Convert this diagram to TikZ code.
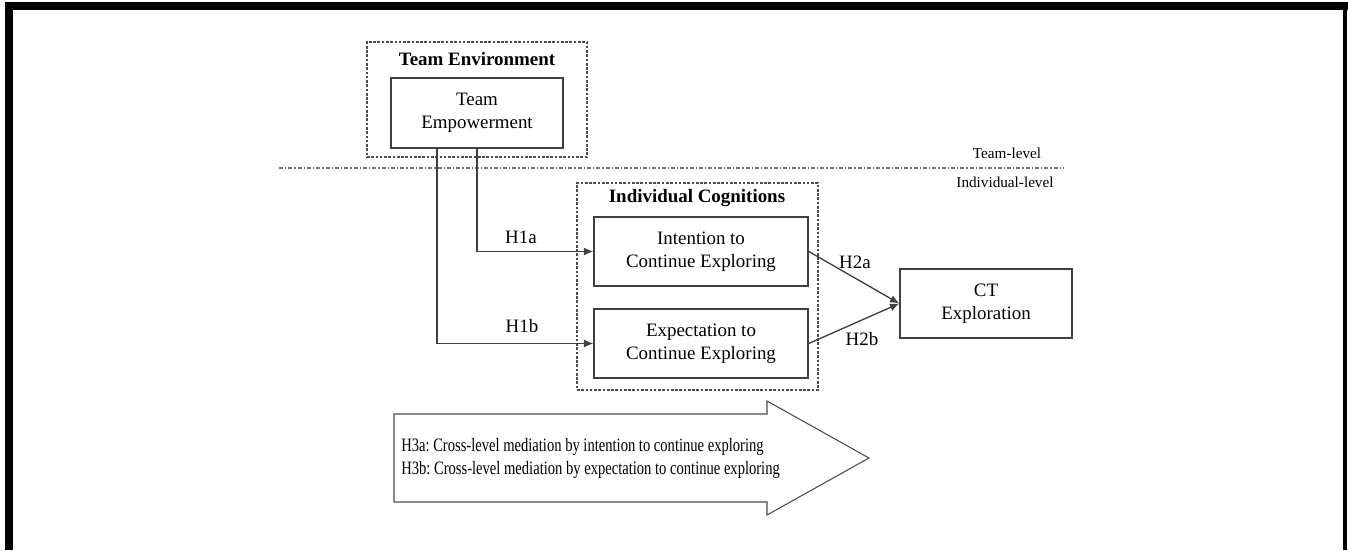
\documentclass[tikz,border=0pt]{standalone}
\usepackage{fontspec}
\setmainfont{Liberation Serif}
\usetikzlibrary{arrows,arrows.meta}

\newcommand{\mainsize}{\fontsize{14.2pt}{17.3pt}\selectfont}
\newcommand{\levelsize}{\fontsize{11.4pt}{13.5pt}\selectfont}

\tikzset{
  varbox/.style={draw=black!75, line width=1.1pt, align=center, inner sep=0pt, font=\mainsize},
  groupbox/.style={draw=black!70, line width=0.8pt, dash pattern=on 2pt off 1.2pt, inner sep=0pt},
  grouptitle/.style={font=\mainsize\bfseries},
  hyplabel/.style={font=\mainsize},
  path/.style={draw=black!75, line width=1pt, -{Latex[length=7pt,width=6pt]}},
}

\begin{document}
\begin{tikzpicture}[x=0.75pt, y=-0.75pt]
			\useasboundingbox (0,0) rectangle (1348,550);
			% frame
			\fill[black] (5,2) rectangle (1348,10);
			\fill[black] (5,2) rectangle (13,550);
			\fill[black] (1343,2) rectangle (1347,550);
			% team level
			\node[groupbox, minimum width=165pt, minimum height=86.25pt] (teamenv) at (477,99.5) {};
			\node[grouptitle] (teamenvtitle) at (477,59) {Team Environment};
			\node[varbox, minimum width=129pt, minimum height=52.5pt] (teamemp) at (477,113) {Team\\Empowerment};
			% level divider
			\coordinate (divleft) at (279,168);
			\coordinate (divright) at (1064,168);
			\draw[black!55, line width=0.8pt, dash pattern=on 3pt off 1.5pt on 1pt off 1.5pt] (divleft) -- (divright);
			\node[font=\levelsize] (teamlevel) at (1007,153) {Team-level};
			\node[font=\levelsize] (indlevel) at (1005,182) {Individual-level};
			% individual level
			\node[groupbox, minimum width=180.75pt, minimum height=155.25pt] (indcog) at (697.5,286.5) {};
			\node[grouptitle] (indcogtitle) at (697,198) {Individual Cognitions};
			\node[varbox, minimum width=160.5pt, minimum height=51.75pt] (intention) at (701,251.5) {Intention to\\Continue Exploring};
			\node[varbox, minimum width=160.5pt, minimum height=51.75pt] (expectation) at (701,343.5) {Expectation to\\Continue Exploring};
			\node[varbox, minimum width=129pt, minimum height=51.75pt] (ctexpl) at (986,303.5) {CT\\Exploration};
			% hypotheses
			\coordinate (hibstart) at (437,148);
			\draw[path] (teamemp.south) |- (intention.west);
			\draw[path] (hibstart) |- (expectation.west);
			\draw[path] (intention.east) -- (ctexpl.west);
			\draw[path] (expectation.east) -- (ctexpl.west);
			\node[hyplabel] (hia) at (521,237) {H1a};
			\node[hyplabel] (hib) at (522,326) {H1b};
			\node[hyplabel] (hiia) at (855,262) {H2a};
			\node[hyplabel] (hiib) at (862,339) {H2b};
			% mediation arrow
			\draw[black!70, line width=0.8pt] (394,414) -- (767,414) -- (767,401) -- (869,458) -- (767,515) -- (767,502) -- (394,502) -- cycle;
			\node[font=\mainsize, align=left, anchor=west, inner sep=0pt] (mediation) at (401,458)
			  {\scalebox{0.77}[1]{H3a:\ Cross-level mediation by intention\ to continue exploring}\\\scalebox{0.77}[1]{H3b:\ Cross-level mediation by expectation to continue exploring}};
		\end{tikzpicture}
\end{document}
